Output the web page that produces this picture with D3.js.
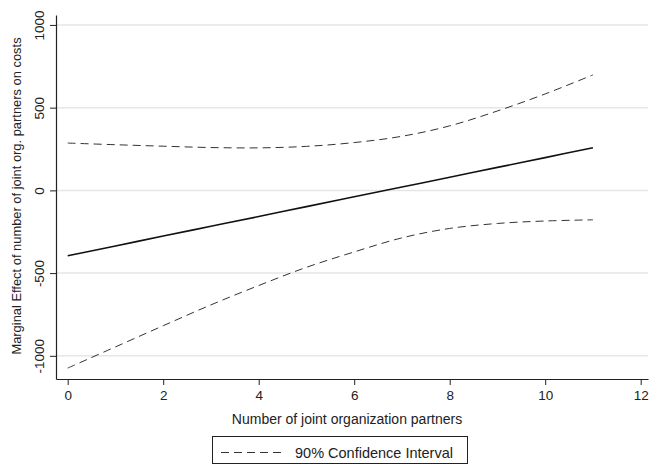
<!DOCTYPE html>
<html>
<head>
<meta charset="utf-8">
<script src="https://cdn.jsdelivr.net/npm/d3@7"></script>
<style>
  html, body { margin: 0; padding: 0; background: #fff; }
  svg { display: block; font-family: "Liberation Sans", Arial, sans-serif; }
</style>
</head>
<body>
<svg id="chart" width="650" height="464"></svg>
<script>
// Number of joint organization partners
const partners = [0, 1, 2, 3, 4, 5, 6, 7, 8, 9, 10, 11];
// Marginal effect on costs (point estimate)
const effect = [-395, -336, -276, -217, -158, -98, -39, 20, 79, 139, 198, 258];
// 90% confidence bounds
const upperCI = [286, 276, 267, 259, 257, 266, 289, 327, 390, 480, 583, 698];
const lowerCI = [-1074, -946, -818, -692, -575, -465, -372, -287, -230, -200, -185, -178];

const xTicks = [0, 2, 4, 6, 8, 10, 12];
const yTicks = [-1000, -500, 0, 500, 1000];

const svg = d3.select("#chart");

const x = d3.scaleLinear().domain([-0.245, 12.153]).range([56, 648]);
const y = d3.scaleLinear().domain([-1140, 1060]).range([379, 15]);

// horizontal grid lines
svg.append("g")
  .selectAll("line")
  .data(yTicks)
  .join("line")
  .attr("x1", 57).attr("x2", 648)
  .attr("y1", d => y(d)).attr("y2", d => y(d))
  .attr("stroke", "#e6e6e6")
  .attr("stroke-width", 1.5);

// axes
const yAxis = svg.append("g")
  .attr("transform", "translate(56,0)")
  .call(d3.axisLeft(y).tickValues(yTicks).tickFormat(d => String(d))
    .tickSize(6).tickSizeOuter(0));
yAxis.selectAll("text")
  .attr("transform", "rotate(-90)")
  .attr("x", 0)
  .attr("y", -12)
  .attr("dy", 0)
  .attr("text-anchor", "middle")
  .style("font-size", "13.5px")
  .attr("fill", "#222");

const xAxis = svg.append("g")
  .attr("transform", "translate(0,379)")
  .call(d3.axisBottom(x).tickValues(xTicks).tickFormat(d => String(d))
    .tickSize(6).tickSizeOuter(0).tickPadding(5));
xAxis.selectAll("text")
  .style("font-size", "13.5px")
  .attr("fill", "#222");

svg.selectAll(".domain").attr("stroke", "#222").attr("stroke-width", 1.2);
svg.selectAll(".tick line").attr("stroke", "#222").attr("stroke-width", 1);

// axis titles
svg.append("text")
  .attr("transform", "translate(21,196) rotate(-90)")
  .attr("text-anchor", "middle")
  .style("font-size", "12.9px")
  .attr("fill", "#222")
  .text("Marginal Effect of number of joint org. partners on costs");

svg.append("text")
  .attr("x", 347).attr("y", 424)
  .attr("text-anchor", "middle")
  .style("font-size", "14px")
  .attr("fill", "#222")
  .text("Number of joint organization partners");

// confidence bounds and estimate
const line = (vals) => d3.line()
  .x((d, i) => x(partners[i]))
  .y(d => y(d))
  .curve(d3.curveCatmullRom.alpha(0.5))(vals);

[upperCI, lowerCI].forEach(vals => {
  svg.append("path")
    .attr("d", line(vals))
    .attr("fill", "none")
    .attr("stroke", "#333")
    .attr("stroke-width", 1)
    .attr("stroke-dasharray", "8,5");
});

svg.append("path")
  .attr("d", line(effect))
  .attr("fill", "none")
  .attr("stroke", "#111")
  .attr("stroke-width", 1.6);

// legend
const legend = svg.append("g");
legend.append("rect")
  .attr("x", 212.5).attr("y", 436.5)
  .attr("width", 255).attr("height", 27)
  .attr("fill", "#fff")
  .attr("stroke", "#222")
  .attr("stroke-width", 1);
legend.append("line")
  .attr("x1", 221).attr("x2", 285)
  .attr("y1", 452.5).attr("y2", 452.5)
  .attr("stroke", "#333")
  .attr("stroke-width", 1)
  .attr("stroke-dasharray", "8,5");
legend.append("text")
  .attr("x", 295).attr("y", 458)
  .style("font-size", "14.5px")
  .attr("fill", "#222")
  .text("90% Confidence Interval");
</script>
</body>
</html>
